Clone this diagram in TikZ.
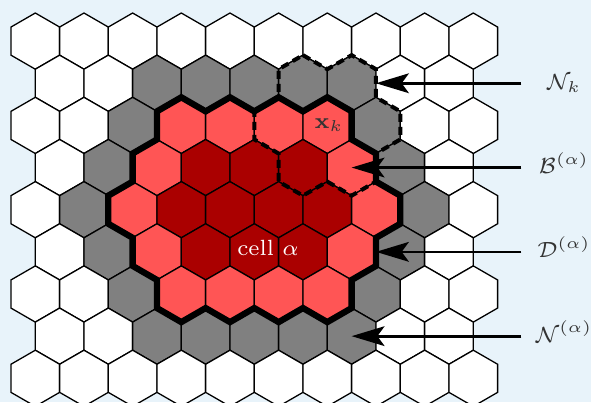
\documentclass[tikz,border=0pt]{standalone}
\usetikzlibrary{arrows.meta}
\definecolor{bgblue}{HTML}{E8F3FA}
\definecolor{cW}{HTML}{FFFFFF}
\definecolor{cG}{HTML}{808080}
\definecolor{cR}{HTML}{FF5555}
\definecolor{cD}{HTML}{AA0000}
\definecolor{labelgray}{HTML}{333333}
\tikzset{
  hexline/.style={draw=black, line width=0.45pt, line join=miter},
  regionline/.style={draw=black, line width=2.2pt, line join=miter},
  nkline/.style={draw=black, line width=1.4pt, dash pattern=on 2.8pt off 1.75pt, line join=miter},
  arrowline/.style={draw=black, line width=0.95pt, -{Stealth[length=11.5pt, width=6.9pt, inset=2.5pt]}},
  lab/.style={text=labelgray, font=\scriptsize, scale=1.1, inner sep=0pt, minimum width=26.7pt, anchor=base},
  celltext/.style={font=\scriptsize, scale=1.1, inner sep=0pt, anchor=base}
}
\begin{document}
\begin{tikzpicture}[x=0.35pt, y=-0.35pt]
  \clip (0,0) rectangle (591,402);
  \fill[bgblue] (0,0) rectangle (591,402);
  \begin{scope}[shift={(35.3,13)}, x=8.5167pt, y=-4.9175pt]
    \foreach \r/\row in {0/{W,W,W,W,W,W,W,W,W,W},
                         1/{W,W,G,G,G,G,G,W,W},
                         2/{W,W,G,R,R,R,R,G,W,W},
                         3/{W,G,R,D,D,D,R,G,W},
                         4/{W,G,R,D,D,D,D,R,G,W},
                         5/{W,G,R,D,D,D,R,G,W},
                         6/{W,W,G,R,R,R,R,G,W,W},
                         7/{W,W,G,G,G,G,G,W,W},
                         8/{W,W,W,W,W,W,W,W,W,W}}{
      \foreach \col [count=\c from 0] in \row {
        \pgfmathtruncatemacro\k{2*\c+mod(\r,2)}
        \pgfmathtruncatemacro\j{2+3*\r}
        \draw[hexline, fill=c\col] (\k,\j-2) -- (\k+1,\j-1) -- (\k+1,\j+1) -- (\k,\j+2) -- (\k-1,\j+1) -- (\k-1,\j-1) -- cycle;
      }
    }
    % boundary of D^(alpha)
    \draw[regionline] (5,7) -- (6,6) -- (7,7) -- (8,6) -- (9,7) -- (10,6) -- (11,7) -- (12,6) -- (13,7) -- (13,9) -- (14,10) -- (14,12) -- (15,13) -- (15,15) -- (14,16) -- (14,18) -- (13,19) -- (13,21) -- (12,22) -- (11,21) -- (10,22) -- (9,21) -- (8,22) -- (7,21) -- (6,22) -- (5,21) -- (5,19) -- (4,18) -- (4,16) -- (3,15) -- (3,13) -- (4,12) -- (4,10) -- (5,9) -- cycle;
    % boundary of N_k
    \draw[nkline] (11,3) -- (12,4) -- (13,3) -- (14,4) -- (14,6) -- (15,7) -- (15,9) -- (14,10) -- (14,12) -- (13,13) -- (12,12) -- (11,13) -- (10,12) -- (10,10) -- (9,9) -- (9,7) -- (10,6) -- (10,4) -- cycle;
    \coordinate (tNk) at (14,5);
    \coordinate (tB) at (13,11);
    \coordinate (tD) at (14,17);
    \coordinate (tN) at (13,23);
  \end{scope}
  \node[celltext, text=labelgray] (xk) at (329,128.3) {$\mathbf{x}_k$};
  \node[celltext, text=white] (cell) at (268,255) {cell $\alpha$};
  \node[lab] (labNk) at (564,89.3) {$\mathcal{N}_k$};
  \node[lab] (labB) at (564,173.5) {$\mathcal{B}^{(\alpha)}$};
  \node[lab] (labD) at (564,257.9) {$\mathcal{D}^{(\alpha)}$};
  \node[lab] (labN) at (564,342.2) {$\mathcal{N}^{(\alpha)}$};
  \draw[arrowline] (labNk.west |- tNk) -- (tNk);
  \draw[arrowline] (labB.west |- tB) -- (tB);
  \draw[arrowline] (labD.west |- tD) -- (tD);
  \draw[arrowline] (labN.west |- tN) -- (tN);
\end{tikzpicture}
\end{document}
